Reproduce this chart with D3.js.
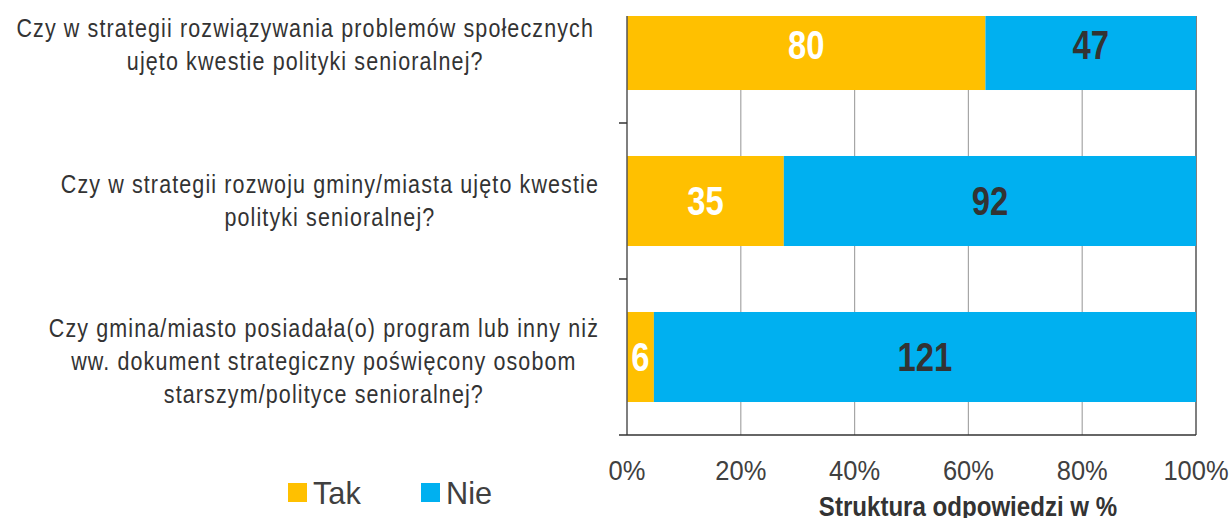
<!DOCTYPE html>
<html>
<head>
<meta charset="utf-8">
<script src="https://cdn.jsdelivr.net/npm/d3@7"></script>
<style>
  html, body { margin: 0; padding: 0; background: #fff; }
  svg { display: block; }
</style>
</head>
<body>
<div id="chart"></div>
<script>
// data
const questions = [
    ["Czy w strategii rozwiązywania problemów społecznych", "ujęto kwestie polityki senioralnej?"],
    ["Czy w strategii rozwoju gminy/miasta ujęto kwestie", "polityki senioralnej?"],
    ["Czy gmina/miasto posiadała(o) program lub inny niż", "ww. dokument strategiczny  poświęcony osobom", "starszym/polityce senioralnej?"]
];
const takValues = [80, 35, 6];
const nieValues = [47, 92, 121];
const seriesNames = ["Tak", "Nie"];
const seriesColors = ["#FFC000", "#00B0F0"];
const labelColors = ["#ffffff", "#333333"];
const xTicks = [0, 0.2, 0.4, 0.6, 0.8, 1];

const width = 1230, height = 518;
const font = "'Liberation Sans', Arial, sans-serif";
const plot = { left: 627, right: 1196, top: 16, bottom: 435 };

const svg = d3.select("#chart").append("svg")
    .attr("width", width)
    .attr("height", height);

// the original text is condensed, so squeeze text horizontally
function squeezed(x, y, f) {
    return svg.append("g").attr("transform", `translate(${x},${y}) scale(${f},1)`);
}

var rows = questions.map((q, i) => {
    return { id: i, lines: q, vals: [takValues[i], nieValues[i]], total: takValues[i] + nieValues[i] };
});

const xScale = d3.scaleLinear().domain([0, 1]).range([plot.left, plot.right]);

// the top of the plot is cut off in the original picture
const yScale = d3.scaleBand()
    .domain(rows.map(d => d.id))
    .range([plot.bottom - 3 * 156, plot.bottom])
    .paddingInner(0.423)
    .paddingOuter(0.2115);

svg.append("clipPath").attr("id", "plotclip")
    .append("rect")
    .attr("x", plot.left).attr("y", plot.top)
    .attr("width", plot.right - plot.left + 1)
    .attr("height", plot.bottom - plot.top);

const g = svg.append("g").attr("clip-path", "url(#plotclip)");

// gridlines
g.selectAll(".grid")
    .data(xTicks.slice(1))
    .enter()
    .append("line")
    .attr("x1", d => xScale(d)).attr("x2", d => xScale(d))
    .attr("y1", plot.top).attr("y2", plot.bottom)
    .attr("stroke", d => d === 1 ? "#555" : "#a6a6a6")
    .attr("stroke-width", d => d === 1 ? 1.5 : 1.2);

// bars
rows.forEach(r => {
    var start = 0;
    r.vals.forEach((v, s) => {
        var x0 = xScale(start / r.total);
        var x1 = xScale((start + v) / r.total);
        g.append("rect")
            .attr("x", x0)
            .attr("y", yScale(r.id))
            .attr("width", x1 - x0)
            .attr("height", yScale.bandwidth())
            .attr("fill", seriesColors[s]);
        squeezed((x0 + x1) / 2, yScale(r.id) + yScale.bandwidth() / 2, 0.82)
            .append("text")
            .attr("dy", "0.36em")
            .attr("text-anchor", "middle")
            .style("font-family", font)
            .style("font-weight", "bold")
            .style("font-size", "40px")
            .style("fill", labelColors[s])
            .text(v);
        start += v;
    });
});

// axes lines and the tick marks between categories
svg.append("line")
    .attr("x1", plot.left).attr("x2", plot.left)
    .attr("y1", plot.top).attr("y2", plot.bottom)
    .attr("stroke", "#555").attr("stroke-width", 1.5);
svg.append("line")
    .attr("x1", plot.left - 8).attr("x2", plot.right)
    .attr("y1", plot.bottom).attr("y2", plot.bottom)
    .attr("stroke", "#333").attr("stroke-width", 1.5);
svg.selectAll(".ytick")
    .data(rows.slice(1))
    .enter()
    .append("line")
    .attr("x1", plot.left - 8).attr("x2", plot.left)
    .attr("y1", d => yScale(d.id) - yScale.step() * yScale.paddingInner() / 2)
    .attr("y2", d => yScale(d.id) - yScale.step() * yScale.paddingInner() / 2)
    .attr("stroke", "#333").attr("stroke-width", 1.5);

// category labels: lines centred on each other, block right aligned
const labelSqueeze = 0.86;
rows.forEach(r => {
    var lineH = 33;
    var cy = yScale(r.id) + yScale.bandwidth() / 2 + (r.lines.length === 3 ? 4 : 0);
    var grp = squeezed(0, 0, labelSqueeze);
    var t = grp.append("text")
        .attr("text-anchor", "middle")
        .style("font-family", font)
        .style("font-size", "25px")
        .style("letter-spacing", "1.3px")
        .style("fill", "#333");
    var spans = r.lines.map((line, j) => t.append("tspan")
        .attr("x", 0)
        .attr("y", cy + (j - (r.lines.length - 1) / 2) * lineH)
        .attr("dy", "0.36em")
        .text(line));
    var maxW = d3.max(spans, s => s.node().getComputedTextLength()) * labelSqueeze;
    var right = r.id === 0 ? 594 : 599;
    grp.attr("transform", `translate(${right - maxW / 2},0) scale(${labelSqueeze},1)`);
});

// x axis tick labels
xTicks.forEach(v => {
    squeezed(xScale(v), 480, 0.91)
        .append("text")
        .attr("text-anchor", "middle")
        .style("font-family", font)
        .style("font-size", "28px")
        .style("fill", "#404040")
        .text(d3.format(".0%")(v));
});

squeezed(968, 516, 0.86)
    .append("text")
    .attr("text-anchor", "middle")
    .style("font-family", font)
    .style("font-weight", "bold")
    .style("font-size", "28px")
    .style("fill", "#333")
    .text("Struktura odpowiedzi w %");

// legend
const legendX = [288, 421];
seriesNames.forEach((name, i) => {
    svg.append("rect")
        .attr("x", legendX[i]).attr("y", 483)
        .attr("width", 19).attr("height", 19)
        .attr("fill", seriesColors[i]);
    squeezed(legendX[i] + 25, 504, 0.96)
        .append("text")
        .style("font-family", font)
        .style("font-size", "32px")
        .style("fill", "#404040")
        .text(name);
});
</script>
</body>
</html>
